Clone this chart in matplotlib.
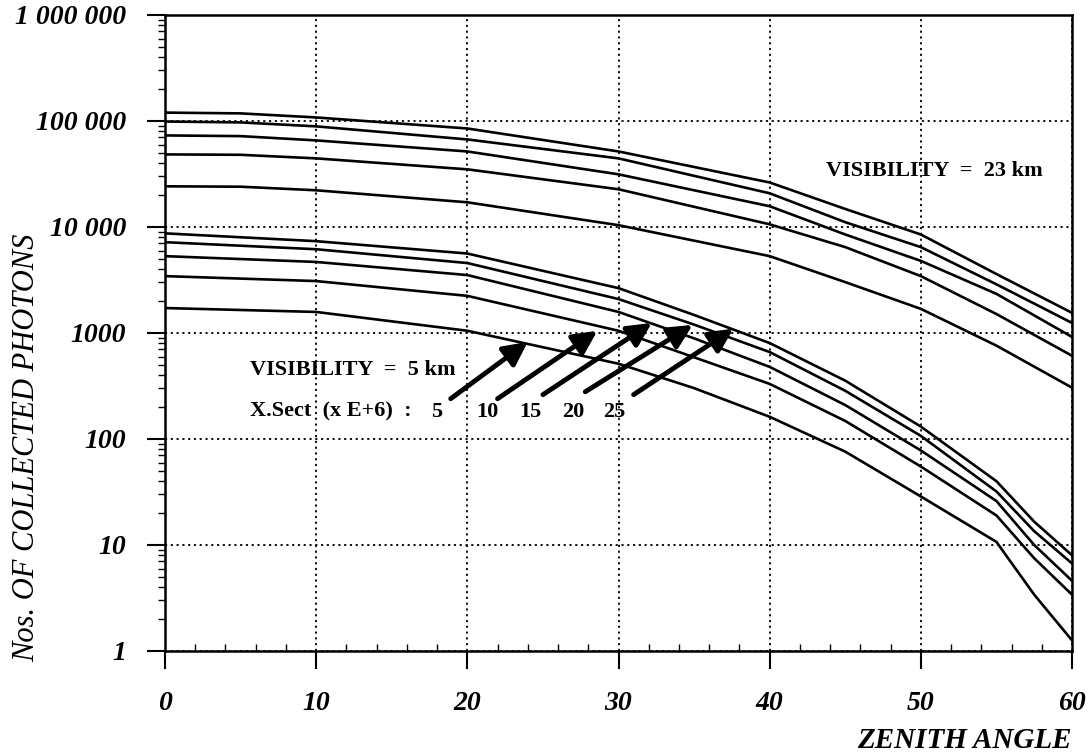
import matplotlib
matplotlib.use("Agg")
import matplotlib.pyplot as plt
from matplotlib.ticker import FixedLocator, LogLocator, NullFormatter, MultipleLocator

# zenith angle (deg) sample points
angle_23km = [0, 5, 10, 20, 30, 40, 45, 50, 55, 60]
angle_5km = [0, 10, 20, 30, 35, 40, 45, 50, 55, 57.5, 60]

# visibility 23 km, five cross sections (top to bottom)
vis23 = [
    [120000, 118000, 108000, 85000, 51600, 26300, 14800, 8500, 3600, 1550],
    [98900, 97000, 89000, 67000, 44400, 20800, 11100, 6460, 2880, 1245],
    [73100, 72000, 65600, 51600, 31400, 15700, 8500, 4790, 2340, 918],
    [48400, 48000, 44400, 35000, 22700, 10600, 6460, 3440, 1510, 610],
    [24200, 24000, 22200, 17100, 10400, 5310, 3020, 1690, 760, 305],
]

# visibility 5 km, five cross sections (top to bottom)
vis5 = [
    [8710, 7350, 5620, 2650, 1480, 804, 355, 131, 40, 16.6, 8.0],
    [7190, 6170, 4570, 2090, 1200, 661, 285, 107, 32, 13.5, 6.7],
    [5310, 4680, 3520, 1580, 890, 479, 209, 78, 26, 10, 4.6],
    [3440, 3090, 2240, 1050, 590, 331, 148, 55, 19, 7.5, 3.4],
    [1720, 1580, 1050, 513, 302, 162, 76, 28.7, 10.7, 3.4, 1.26],
]

xsect_labels = ["5", "10", "15", "20", "25"]
# arrows: (tail angle, tail count) -> (tip angle, tip count)
arrow_tails = [(18.9, 240), (22.0, 240), (25.0, 262), (27.8, 279), (31.0, 262)]
arrow_tips = [(24.0, 825), (28.6, 1047), (32.2, 1245), (34.9, 1192), (37.6, 1096)]
xsect_label_x = [18.0, 21.3, 24.2, 27.0, 29.7]

y_ticks = [1, 10, 100, 1000, 10000, 100000, 1000000]
y_ticklabels = ["1", "10", "100", "1000", "10 000", "100 000", "1 000 000"]
x_ticks = [0, 10, 20, 30, 40, 50, 60]

serif = ["Liberation Serif", "DejaVu Serif"]

fig = plt.figure(figsize=(10.89, 7.55), dpi=100)
ax = fig.add_axes([165 / 1089, 1 - 651 / 755, (1072 - 165) / 1089, (651 - 15) / 755])

for ys in vis23:
    ax.plot(angle_23km, ys, color="black", lw=1.9)
for ys in vis5:
    ax.plot(angle_5km, ys, color="black", lw=1.9)

ax.set_yscale("log")
ax.set_xlim(0, 60)
ax.set_ylim(1, 1e6)

ax.yaxis.set_major_locator(FixedLocator(y_ticks))
ax.set_yticklabels(y_ticklabels, fontfamily=serif, fontstyle="italic",
                   fontweight="bold", fontsize=20)
ax.yaxis.set_minor_locator(LogLocator(base=10, subs=range(2, 10)))
ax.yaxis.set_minor_formatter(NullFormatter())
ax.set_xticks(x_ticks)
ax.set_xticklabels([str(t) for t in x_ticks], fontfamily=serif, fontstyle="italic",
                   fontweight="bold", fontsize=20)
ax.xaxis.set_minor_locator(MultipleLocator(2))

ax.tick_params(axis="y", which="major", direction="out", length=13, width=1.5, pad=15)
ax.tick_params(axis="y", which="minor", direction="out", length=5, width=1.0)
ax.tick_params(axis="x", which="major", direction="out", length=13, width=1.5, pad=16)
ax.tick_params(axis="x", which="minor", direction="in", length=5, width=1.0)

for sp in ax.spines.values():
    sp.set_linewidth(1.8)

ax.grid(True, which="major", linestyle=(0, (1.2, 2.0)), color="black", lw=1.3)

txt = dict(fontfamily=serif, fontweight="bold", fontsize=16, color="black")
ax.text(43.7, 3.35e4, "VISIBILITY  =  23 km", va="center", ha="left", **txt)
ax.text(5.6, 450, "VISIBILITY  =  5 km", va="center", ha="left", **txt)
ax.text(5.6, 181, "X.Sect  (x E+6)  :", va="center", ha="left", **txt)
for lx, lab in zip(xsect_label_x, xsect_labels):
    ax.text(lx, 181, lab, va="center", ha="center", **txt)

for (tx, ty), (hx, hy) in zip(arrow_tails, arrow_tips):
    ax.annotate("", xy=(hx, hy), xytext=(tx, ty),
                arrowprops=dict(arrowstyle="-|>", lw=3.5, color="black",
                                mutation_scale=36, shrinkA=0, shrinkB=0))

fig.text(27 / 1089, 1 - 448 / 755, "Nos. OF COLLECTED PHOTONS", rotation=90,
         ha="center", va="center", fontfamily=serif, fontstyle="italic", fontsize=22)
fig.text(1072 / 1089, 1 - 740 / 755, "ZENITH ANGLE", ha="right", va="center",
         fontfamily=serif, fontstyle="italic", fontweight="bold", fontsize=21)

fig.savefig("out.png", dpi=100)
